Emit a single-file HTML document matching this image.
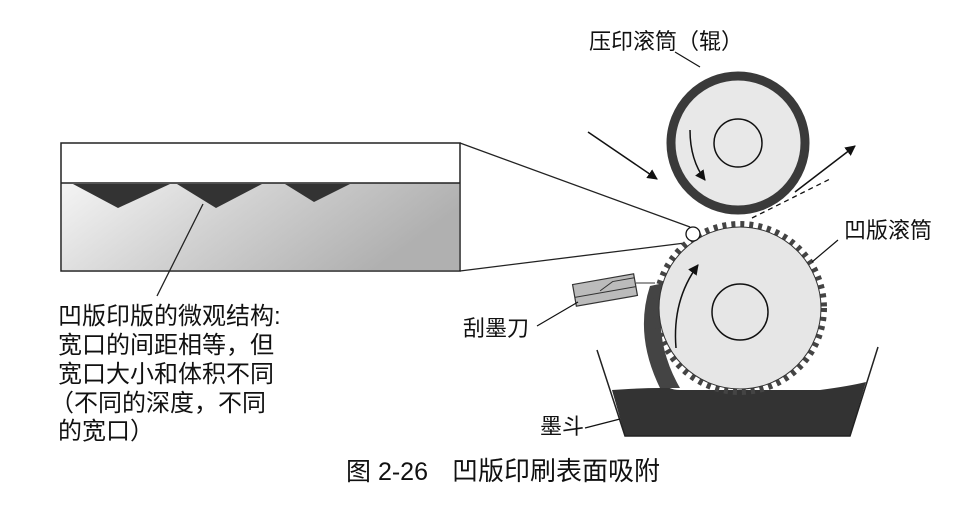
<!DOCTYPE html>
<html><head><meta charset="utf-8"><style>
html,body{margin:0;padding:0;background:#fff}
svg{display:block}
text{font-family:"Liberation Sans","Noto Sans CJK SC",sans-serif;fill:#111}
</style></head><body>
<svg width="956" height="506" viewBox="0 0 956 506" xmlns="http://www.w3.org/2000/svg">
<defs>
<linearGradient id="g1" x1="0" y1="0" x2="1" y2="0.3">
<stop offset="0" stop-color="#f4f4f4"/><stop offset="0.5" stop-color="#d0d0d0"/><stop offset="1" stop-color="#b0b0b0"/></linearGradient>
<marker id="ar" viewBox="0 0 10 10" refX="9" refY="5" markerWidth="7" markerHeight="7" orient="auto"><path d="M0,0 L10,5 L0,10 z" fill="#111"/></marker>
</defs>
<rect x="61" y="143" width="399" height="128" fill="#fff" stroke="#222" stroke-width="1.5"/>
<rect x="62" y="183" width="397" height="87" fill="url(#g1)"/>
<line x1="61" y1="183" x2="460" y2="183" stroke="#222" stroke-width="1.5"/>
<polygon points="73,184 170,184 118,208" fill="#333"/>
<polygon points="177,184 262,184 216,208" fill="#333"/>
<polygon points="285,184 350,184 314,202" fill="#333"/>
<line x1="460" y1="143" x2="690" y2="227" stroke="#222" stroke-width="1.3"/>
<line x1="460" y1="271" x2="685" y2="243" stroke="#222" stroke-width="1.3"/>
<line x1="203" y1="204" x2="157" y2="296" stroke="#222" stroke-width="1.3"/>
<path d="M612,390 Q640,388 660,388 L660,372 Q662,390 680,390 L820,390 Q850,386 866,382 L850,436 L625,436 Z" fill="#333"/>
<polyline points="597,350 625,436 850,436 878,347" fill="none" stroke="#222" stroke-width="1.5"/>
<path d="M650,286 Q634,335 660,388 L680,388 Q652,340 664,283 Z" fill="#444"/>
<circle cx="740" cy="308" r="84" fill="none" stroke="#444" stroke-width="6" stroke-dasharray="4 5"/>
<circle cx="740" cy="308" r="81" fill="#e6e6e6" stroke="#333" stroke-width="1"/>
<circle cx="740" cy="312" r="28" fill="none" stroke="#111" stroke-width="1.5"/>
<path d="M676,348 Q672,300 698,265" fill="none" stroke="#111" stroke-width="1.5" marker-end="url(#ar)"/>
<circle cx="738" cy="143" r="67" fill="#e8e8e8" stroke="#3a3a3a" stroke-width="9"/>
<circle cx="738" cy="143" r="24" fill="none" stroke="#111" stroke-width="1.5"/>
<path d="M690,130 Q690,160 705,180" fill="none" stroke="#111" stroke-width="1.5" marker-end="url(#ar)"/>
<circle cx="693" cy="234" r="7" fill="#fff" stroke="#111" stroke-width="1.3"/>
<line x1="588" y1="132" x2="657" y2="179" stroke="#111" stroke-width="1.5" marker-end="url(#ar)"/>
<line x1="795" y1="192" x2="855" y2="146" stroke="#111" stroke-width="1.5" marker-end="url(#ar)"/>
<line x1="752" y1="218" x2="832" y2="178" stroke="#111" stroke-width="1.3" stroke-dasharray="5 4"/>
<g transform="rotate(-10 605 290)">
<rect x="574" y="279" width="62" height="22" fill="#bbb" stroke="#333" stroke-width="1.2"/>
<path d="M600,290 L614,283 L636,283" fill="none" stroke="#333" stroke-width="1"/>
<line x1="574" y1="292" x2="636" y2="292" stroke="#333" stroke-width="1"/>
</g>
<line x1="636" y1="283" x2="655" y2="283" stroke="#333" stroke-width="1"/>
<line x1="700" y1="67" x2="675" y2="52" stroke="#111" stroke-width="1.2"/>
<line x1="838" y1="240" x2="812" y2="262" stroke="#111" stroke-width="1.2"/>
<line x1="537" y1="326" x2="578" y2="302" stroke="#111" stroke-width="1.2"/>
<line x1="585" y1="428" x2="620" y2="419" stroke="#111" stroke-width="1.2"/>
<text x="589" y="49" font-size="22">压印滚筒（辊）</text>
<text x="844" y="238" font-size="22">凹版滚筒</text>
<text x="463" y="336" font-size="22">刮墨刀</text>
<text x="540" y="434" font-size="22">墨斗</text>
<g font-size="24">
<text x="58" y="324">凹版印版的微观结构:</text>
<text x="58" y="353">宽口的间距相等，但</text>
<text x="58" y="382">宽口大小和体积不同</text>
<text x="50" y="411">（不同的深度，不同</text>
<text x="58" y="439">的宽口）</text>
</g>
<text x="346" y="480" font-size="25">图 2-26</text>
<text x="452" y="480" font-size="26">凹版印刷表面吸附</text>
</svg>
</body></html>
